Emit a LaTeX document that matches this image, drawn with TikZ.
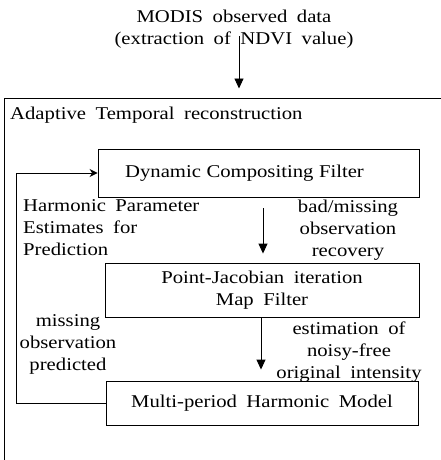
\documentclass[tikz,border=0pt]{standalone}
\usepackage{fontspec}
\setmainfont{Liberation Serif}[FakeStretch=1.15]
\usetikzlibrary{arrows.meta}
\newcommand\widespace{\spaceskip=9.5pt plus 1pt\relax}
\newcommand\normspace{\spaceskip=5.5pt plus 1pt\relax}
\begin{document}
\begin{tikzpicture}[x=1pt,y=-1pt,
  txt/.style={font=\fontsize{18}{22}\selectfont, execute at begin node=\widespace, inner sep=0pt, align=center},
  boxnode/.style={draw, line width=0.9pt, inner sep=0pt, align=center, font=\fontsize{18}{22}\selectfont, execute at begin node=\widespace},
  flow/.style={line width=0.9pt, -{Triangle[width=9pt,length=10pt]}},
  back/.style={line width=0.9pt, -{Stealth[width=8pt,length=8pt]}}]
\useasboundingbox (0,0) rectangle (440,460);
% outer frame (extends past the page)
\draw[line width=0.9pt] (4,470) -- (4,98.5) -- (450,98.5);
\node[txt] (src) at (234,29) {MODIS observed data\\(extraction of NDVI value)};
\coordinate (frametop) at (239,98.5);
\node[txt, anchor=west] (title) at (10,115) {Adaptive Temporal reconstruction};
\node[boxnode, minimum width=321pt, minimum height=48pt, execute at begin node=\normspace] (b1) at (258.5,173) {Dynamic Compositing Filter\hspace*{28pt}};
\node[boxnode, minimum width=314pt, minimum height=54pt] (b2) at (262,290) {Point-Jacobian iteration\\Map Filter};
\node[boxnode, minimum width=312pt, minimum height=44pt] (b3) at (262,403) {Multi-period Harmonic Model};
% labels
\node[txt, align=left, anchor=north west] (l1) at (23,199) {Harmonic Parameter\\Estimates for\\Prediction};
\node[txt] (l2) at (348,230) {bad/missing\\observation\\recovery};
\node[txt] (l3) at (68,344) {missing\\observation\\predicted};
\node[txt] (l4) at (349,352) {estimation of\\noisy-free\\original intensity};
% connectors (yshift is in page direction: positive = up)
\draw[flow] (src.south -| frametop) ++(0,-12) -- ([yshift=10pt]frametop);
\draw[flow] ([xshift=4.5pt,yshift=-11pt]b1.south) -- ([xshift=1pt,yshift=9pt]b2.north);
\draw[flow] ([xshift=-1pt]b2.south) -- ([xshift=-1pt,yshift=11pt]b3.north);
\draw[back] (b3.west) -- ++(-89,0) |- (b1.west);
\end{tikzpicture}
\end{document}
